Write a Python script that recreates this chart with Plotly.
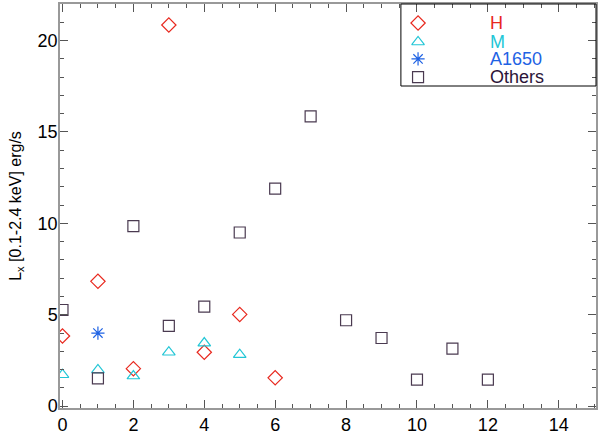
import plotly.graph_objects as go

# Data
h_x = [0, 1, 2, 3, 4, 5, 6]
h_y = [3.84, 6.83, 2.05, 20.85, 2.95, 5.02, 1.55]

m_x = [0, 1, 2, 3, 4, 5]
m_y = [1.72, 1.98, 1.65, 2.95, 3.45, 2.82]

a_x = [1]
a_y = [4.0]

oth_x = [0, 1, 2, 3, 4, 5, 6, 7, 8, 9, 10, 11, 12]
oth_y = [5.26, 1.52, 9.85, 4.39, 5.45, 9.5, 11.9, 15.85, 4.7, 3.73, 1.45, 3.15, 1.45]

series_names = ["H", "M", "A1650", "Others"]
symbols = ["diamond-open", "triangle-up-open", "asterisk-open", "square-open"]
marker_colors = ["#e8281e", "#22c6d6", "#1e62e4", "#4a3a50"]
text_colors = ["#e8281e", "#22c6d6", "#1e62e4", "#2c1438"]

fig = go.Figure()

xs = [h_x, m_x, a_x, oth_x]
ys = [h_y, m_y, a_y, oth_y]
for x, y, name, sym, col in zip(xs, ys, series_names, symbols, marker_colors):
    fig.add_trace(go.Scatter(
        x=x, y=y, mode="markers", name=name, showlegend=False,
        marker=dict(symbol=sym, size=11, color=col, line=dict(color=col, width=1.2)),
    ))

# hand-made legend box (IDL style: symbol on the left, coloured label further right)
leg_x = 0.668
leg_text_x = 0.80
leg_rows = [0.953, 0.906, 0.864, 0.819]
for name, sym, col, tcol, ly in zip(series_names, symbols, marker_colors, text_colors, leg_rows):
    fig.add_trace(go.Scatter(
        x=[leg_x], y=[ly], mode="markers", xaxis="x2", yaxis="y2", showlegend=False,
        hoverinfo="skip",
        marker=dict(symbol=sym, size=11, color=col, line=dict(color=col, width=1.2)),
    ))
    fig.add_annotation(x=leg_text_x, y=ly, xref="paper", yref="paper",
                       text=name, showarrow=False, xanchor="left", yanchor="middle",
                       borderpad=0, font=dict(size=18, color=tcol))

fig.add_shape(type="rect", xref="paper", yref="paper",
              x0=0.636, x1=1.0, y0=0.797, y1=1.0,
              line=dict(color="black", width=1))

axis_common = dict(
    showgrid=False, zeroline=False, showline=True, linecolor="#999999",
    linewidth=1.5, mirror="allticks", ticks="inside", ticklen=8,
    tickcolor="#555555", tickfont=dict(size=18, color="black"), automargin=False,
)

fig.update_xaxes(range=[-0.07, 15.05], dtick=2, tick0=0,
                 minor=dict(dtick=0.5, ticks="inside", ticklen=4, tickcolor="#555555"),
                 **axis_common)
fig.update_yaxes(range=[-0.1, 22], dtick=5, tick0=0, ticklabelstandoff=-3,
                 minor=dict(dtick=1, ticks="inside", ticklen=4, tickcolor="#555555"),
                 title=dict(text="L<sub>x</sub> [0.1-2.4 keV] erg/s",
                            font=dict(size=16, color="black"), standoff=12),
                 **axis_common)

fig.update_layout(
    width=600, height=436,
    margin=dict(l=60, r=4, t=4, b=28),
    plot_bgcolor="white", paper_bgcolor="white",
    font=dict(family="Liberation Sans, Arial, sans-serif", color="black"),
    xaxis2=dict(overlaying="x", range=[0, 1], visible=False, fixedrange=True),
    yaxis2=dict(overlaying="y", range=[0, 1], visible=False, fixedrange=True),
)

fig.write_html("out.html", config=dict(displayModeBar=False),
               post_script="document.body.style.margin='0';")
